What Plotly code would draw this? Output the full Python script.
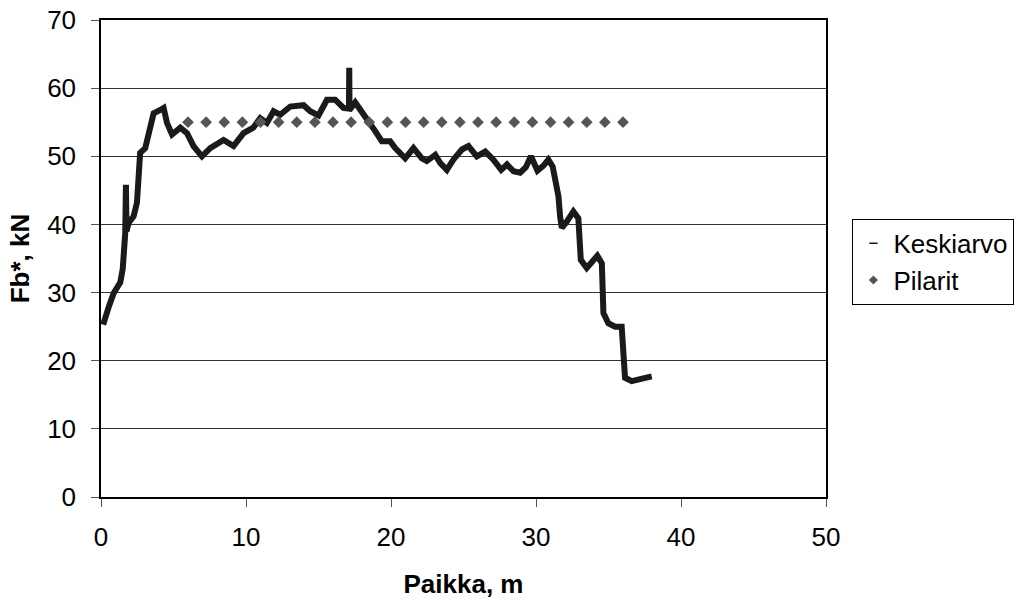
import plotly.graph_objects as go

# Keskiarvo (mean curve)
kesk_x = [0.15, 0.3, 0.55, 0.87, 1.1, 1.33, 1.5, 1.6, 1.67, 1.72, 1.76, 1.9, 2.25, 2.48, 2.6, 2.7,
          3.05, 3.4, 3.63, 4.09, 4.32, 4.55, 4.9, 5.47, 5.93, 6.38, 6.96, 7.53, 8.45, 9.14, 9.83,
          10.5, 10.98, 11.44, 11.9, 12.36, 13.05, 13.97, 14.43, 15.0, 15.58, 16.15, 16.72, 17.1,
          17.12, 17.14, 17.53, 18.0, 18.45, 18.91, 19.37, 19.94, 20.29, 20.98, 21.55, 22.13, 22.47,
          23.05, 23.4, 23.85, 24.3, 24.89, 25.34, 25.92, 26.5, 27.06, 27.6, 28.0, 28.45, 28.9, 29.3,
          29.65, 30.1, 30.5, 30.85, 31.15, 31.35, 31.55, 31.66, 31.78, 32.12, 32.58, 32.92, 33.04,
          33.09, 33.5, 33.96, 34.23, 34.54, 34.6, 34.65, 34.99, 35.45, 35.91, 36.03, 36.14, 36.6,
          37.18, 37.98]
kesk_y = [25.3, 26.5, 28.0, 29.9, 30.6, 31.5, 33.5, 35.5, 38.7, 45.8, 39.0, 40.2, 41.2, 43.2, 48.0, 50.5,
          51.2, 53.9, 56.3, 56.8, 57.1, 54.9, 53.2, 54.2, 53.4, 51.5, 50.0, 51.2, 52.4, 51.5, 53.4,
          54.2, 55.6, 54.9, 56.6, 56.1, 57.3, 57.5, 56.6, 56.0, 58.3, 58.3, 57.1, 57.0,
          63.0, 56.8, 57.9, 56.6, 55.1, 53.7, 52.2, 52.2, 51.2, 49.7, 51.2, 49.7, 49.3,
          50.2, 49.0, 48.0, 49.5, 51.0, 51.5, 50.0, 50.7, 49.5, 48.0, 48.8, 47.8, 47.6, 48.4,
          50.0, 47.9, 48.6, 49.5, 48.5, 46.6, 44.1, 41.2, 39.5, 40.4, 41.9, 40.9, 38.0,
          34.8, 33.6, 34.8, 35.4, 34.3, 30.4, 27.0, 25.5, 25.0, 25.0, 21.6, 17.5, 17.0,
          17.2, 17.7]

# Pilarit (columns) at constant level
pil_x = [6.0, 7.25, 8.5, 9.75, 11.0, 12.25, 13.5, 14.75, 16.0, 17.25, 18.5, 19.75, 21.0,
         22.25, 23.5, 24.75, 26.0, 27.25, 28.5, 29.75, 31.0, 32.25, 33.5, 34.75, 36.0]
pil_y = [55, 55, 55, 55, 55, 55, 55, 55, 55, 55, 55, 55, 55,
         55, 55, 55, 55, 55, 55, 55, 55, 55, 55, 55, 55]

FONT = "Arial, Liberation Sans, sans-serif"

fig = go.Figure()
fig.add_trace(go.Scatter(x=kesk_x, y=kesk_y, mode="lines",
                         line=dict(color="#1a1a1a", width=6),
                         showlegend=False, name="Keskiarvo"))
fig.add_trace(go.Scatter(x=pil_x, y=pil_y, mode="markers",
                         marker=dict(symbol="diamond", size=9, color="#555555"),
                         showlegend=False, name="Pilarit"))
# legend entries
fig.add_trace(go.Scatter(x=[None], y=[None], mode="markers", name="Keskiarvo",
                         marker=dict(symbol="line-ew", size=6, color="#1a1a1a",
                                     line=dict(color="#1a1a1a", width=1.5))))
fig.add_trace(go.Scatter(x=[None], y=[None], mode="markers", name="Pilarit",
                         marker=dict(symbol="diamond", size=7, color="#555555")))

fig.update_layout(
    width=1016, height=601,
    margin=dict(l=101, r=190, t=20, b=104, autoexpand=False),
    paper_bgcolor="white", plot_bgcolor="white",
    font=dict(family=FONT, size=26, color="black"),
    legend=dict(xref="container", yref="container", x=0.839, y=0.636,
                xanchor="left", yanchor="top",
                bordercolor="black", borderwidth=1, font=dict(size=26),
                itemwidth=30, tracegroupgap=0),
    xaxis=dict(range=[0, 50], dtick=10, showgrid=False, zeroline=False,
               showline=True, linecolor="black", linewidth=1.5, mirror=True,
               ticks="outside", ticklen=8, tickcolor="#555555", ticklabelstandoff=8,
               automargin=False,
               title=dict(text="<b>Paikka, m</b>", font=dict(size=26), standoff=24)),
    yaxis=dict(range=[0, 70], dtick=10, showgrid=True, gridcolor="#333333", gridwidth=1,
               zeroline=False, showline=True, linecolor="black", linewidth=1.5, mirror=True,
               ticks="outside", ticklen=8, tickcolor="#555555", ticklabelstandoff=10,
               automargin=False,
               title=dict(text="<b>Fb*, kN</b>", font=dict(size=26), standoff=10)),
)

fig.write_html("out.html")
